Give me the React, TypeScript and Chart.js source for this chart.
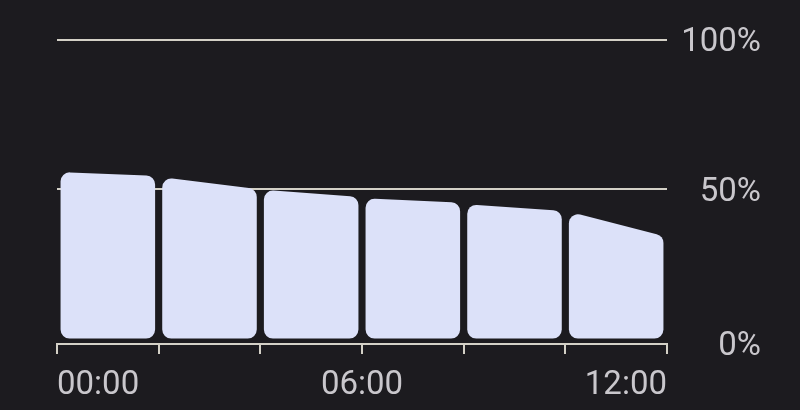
import { Chart, registerables, type ChartOptions, type Plugin } from "chart.js";
import { useEffect, useRef } from "react";

Chart.register(...registerables);

// two-hour slots, bar centred in each slot
const slotMidHours = [1, 3, 5, 7, 9, 11];
// battery level at the start and end of each slot (%)
const startLevels = [55.8, 54.0, 49.8, 47.0, 45.0, 42.5];
const endLevels = [54.5, 50.1, 47.5, 45.5, 42.8, 34.4];

const xTickHours = [0, 2, 4, 6, 8, 10, 12];
const xLabelHours = [0, 6, 12];
const xLabels = ["00:00", "06:00", "12:00"];

const yTickValues = [0, 50, 100];
const yTickLabels = ["0%", "50%", "100%"];

const BG = "#1c1b1f";
const BAR = "#dce1f9";
const LINE = "#d3d0c6";
const TEXT = "#c9c7cc";

// draws each bar as a rounded trapezoid: left side at start level, right side at end level
const slopedBars: Plugin<"bar"> = {
  id: "slopedBars",
  afterDatasetsDraw(chart) {
    const { ctx } = chart;
    const y = chart.scales.y;
    const meta = chart.getDatasetMeta(0);
    const r = 9;
    ctx.save();
    ctx.fillStyle = BAR;
    meta.data.forEach((el, i) => {
      const { x, width, base } = el.getProps(["x", "width", "base"], true) as any;
      const left = x - width / 2;
      const right = x + width / 2;
      const topL = y.getPixelForValue(startLevels[i]);
      const topR = y.getPixelForValue(endLevels[i]);
      ctx.beginPath();
      ctx.moveTo(left, (topL + base) / 2);
      ctx.arcTo(left, topL, right, topR, r);
      ctx.arcTo(right, topR, right, base, r);
      ctx.arcTo(right, base, left, base, r);
      ctx.arcTo(left, base, left, topL, r);
      ctx.closePath();
      ctx.fill();
    });
    ctx.restore();
  },
};

const options: ChartOptions<"bar"> = {
  responsive: true,
  maintainAspectRatio: false,
  animation: false,
  layout: { padding: { left: 57, right: 39, top: 40, bottom: 0 } },
  plugins: { legend: { display: false }, tooltip: { enabled: false } },
  scales: {
    x: {
      type: "linear",
      min: 0,
      max: 12,
      offset: false,
      afterBuildTicks: (scale) => {
        scale.ticks = xTickHours.map((v) => ({ value: v }));
      },
      afterFit: (scale) => {
        scale.height = 66;
      },
      grid: {
        offset: false,
        drawOnChartArea: false,
        drawTicks: true,
        tickLength: 10,
        color: LINE,
        lineWidth: 2,
      },
      border: { display: true, color: LINE, width: 2 },
      ticks: {
        align: "inner",
        padding: 12,
        color: TEXT,
        font: { family: "Roboto", size: 33 },
        maxRotation: 0,
        autoSkip: false,
        callback: (value) => {
          const k = xLabelHours.indexOf(Number(value));
          return k >= 0 ? xLabels[k] : "";
        },
      },
    },
    y: {
      position: "right",
      min: -1.8,
      max: 100,
      afterBuildTicks: (scale) => {
        // the 0% label sits on the axis line
        scale.ticks = yTickValues.map((v) => ({ value: v === 0 ? scale.min : v }));
      },
      afterFit: (scale) => {
        scale.width = 94;
      },
      grid: { drawTicks: false, color: LINE, lineWidth: 2 },
      border: { display: false },
      ticks: {
        padding: 14,
        crossAlign: "far",
        labelOffset: 3,
        color: TEXT,
        font: { family: "Roboto", size: 33 },
        callback: (_v, index) => yTickLabels[index],
      },
    },
  },
};

export default function App() {
  const canvasRef = useRef<HTMLCanvasElement>(null);

  useEffect(() => {
    const canvas = canvasRef.current;
    if (!canvas) return;
    const chart = new Chart(canvas, {
      type: "bar",
      data: {
        datasets: [
          {
            data: slotMidHours.map((h, i) => ({ x: h, y: startLevels[i] })),
            backgroundColor: "rgba(0,0,0,0)",
            borderWidth: 0,
            categoryPercentage: 1,
            barPercentage: 0.93,
          },
        ],
      },
      options,
      plugins: [slopedBars],
    });
    return () => chart.destroy();
  }, []);

  return (
    <div style={{ position: "fixed", left: 0, top: 0, width: 800, height: 410, background: BG }}>
      <canvas ref={canvasRef} />
    </div>
  );
}
